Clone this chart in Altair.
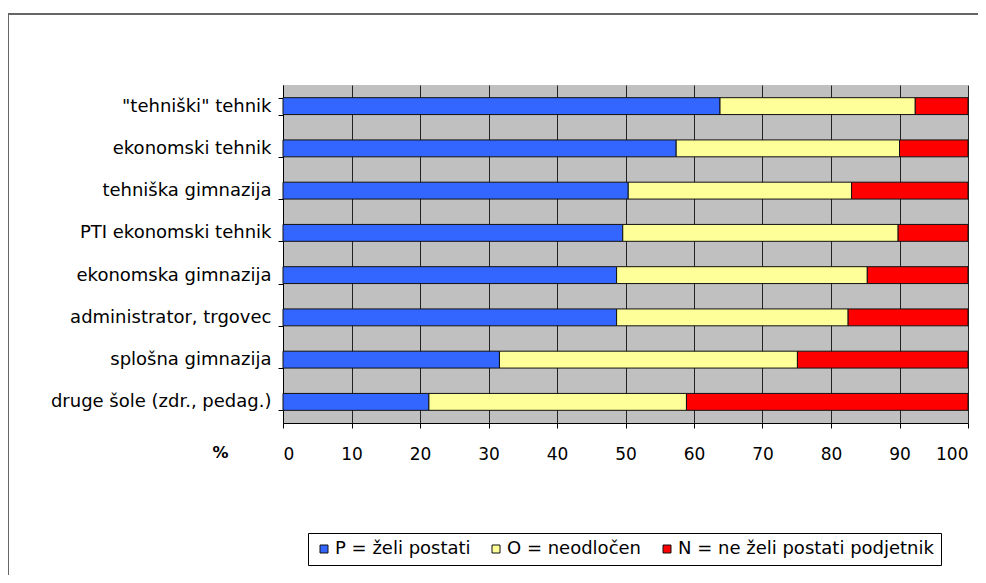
import altair as alt
import pandas as pd

categories = [
    '"tehniški" tehnik',
    "ekonomski tehnik",
    "tehniška gimnazija",
    "PTI ekonomski tehnik",
    "ekonomska gimnazija",
    "administrator, trgovec",
    "splošna gimnazija",
    "druge šole (zdr., pedag.)",
]
series = ["P = želi postati", "O = neodločen", "N = ne želi postati podjetnik"]
p_vals = [63.8, 57.4, 50.4, 49.6, 48.7, 48.7, 31.6, 21.3]
o_vals = [28.5, 32.6, 32.6, 40.2, 36.6, 33.8, 43.5, 37.6]
n_vals = [7.7, 10.0, 17.0, 10.2, 14.7, 17.5, 24.9, 41.1]
colors = ["#3366ff", "#ffff99", "#ff0000"]
x_ticks = [0, 10, 20, 30, 40, 50, 60, 70, 80, 90, 100]

rows = []
for i, c in enumerate(categories):
    for k, (s, v) in enumerate(zip(series, [p_vals[i], o_vals[i], n_vals[i]])):
        rows.append({"cat": c, "series": s, "value": v, "ord": k})
df = pd.DataFrame(rows)

W, H = 685, 338
FONT = "DejaVu Sans"

bars = alt.Chart(df).mark_bar(stroke="#111111", strokeWidth=1).encode(
    y=alt.Y(
        "cat:N",
        sort=categories,
        scale=alt.Scale(paddingInner=0.6, paddingOuter=0.3),
        axis=alt.Axis(
            title=None,
            tickBand="extent",
            tickSize=5,
            tickColor="#000000",
            domainColor="#000000",
            labelFontSize=18,
            labelColor="#000000",
            labelPadding=7,
            labelFont=FONT,
            labelLimit=300,
            grid=False,
        ),
    ),
    x=alt.X(
        "value:Q",
        stack="zero",
        scale=alt.Scale(domain=[0, 100], nice=False),
        axis=alt.Axis(
            title="%",
            titleX=-63,
            titleY=29,
            titleAlign="center",
            titleBaseline="middle",
            titleFontSize=16,
            titleFontWeight="bold",
            titleFont=FONT,
            values=x_ticks,
            tickSize=5,
            tickColor="#000000",
            domainColor="#000000",
            labelFontSize=17,
            labelColor="#000000",
            labelPadding=18,
            labelFont=FONT,
            grid=True,
            gridColor="#222222",
            gridWidth=1,
            gridOpacity=1,
        ),
    ),
    color=alt.Color(
        "series:N",
        sort=series,
        scale=alt.Scale(domain=series, range=colors),
        legend=alt.Legend(
            title=None,
            orient="none",
            legendX=25,
            legendY=448,
            direction="horizontal",
            symbolType="square",
            symbolSize=64,
            symbolStrokeColor="#111111",
            symbolStrokeWidth=1,
            labelFontSize=18,
            labelFont=FONT,
            labelColor="#000000",
            labelOffset=2,
            columnPadding=16,
            labelLimit=500,
            padding=7,
            strokeColor="#000000",
            fillColor="#ffffff",
        ),
    ),
    order=alt.Order("ord:Q"),
)

frame_top = alt.Chart(pd.DataFrame({"a": [0]})).mark_rule(
    color="#666666", strokeWidth=2
).encode(x=alt.value(-275), x2=alt.value(695), y=alt.value(-71))
frame_left = alt.Chart(pd.DataFrame({"a": [0]})).mark_rule(
    color="#666666", strokeWidth=2
).encode(x=alt.value(-275), y=alt.value(-71), y2=alt.value(498))

chart = alt.layer(bars, frame_top, frame_left).properties(
    width=W,
    height=H,
    background="#ffffff",
    autosize=alt.AutoSizeParams(type="none"),
    padding={"left": 275, "top": 77, "right": 10, "bottom": 152},
).configure_view(fill="#c0c0c0", stroke=None)

chart.save("out.html", embed_options={"renderer": "svg", "actions": False})
